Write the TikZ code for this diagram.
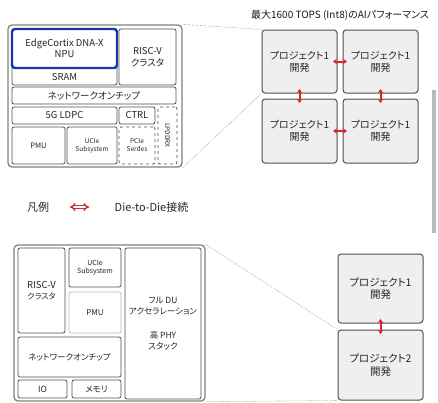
\documentclass[tikz,border=0pt]{standalone}
\usepackage{fontspec}
\setmainfont{Noto Sans CJK JP}[RawFeature=+palt]
\usetikzlibrary{arrows.meta}

\definecolor{txtgray}{HTML}{262626}
\definecolor{blkline}{HTML}{505050}
\definecolor{chipfill}{HTML}{EFEFEF}
\definecolor{npublue}{HTML}{1B35A6}
\definecolor{pmublue}{HTML}{A9BEDC}
\definecolor{d2dred}{HTML}{D8262C}

\tikzset{
  blk/.style={draw=blkline, fill=white, rounded corners=2pt, line width=0.8pt,
    inner sep=0pt, align=center, text=txtgray, font=\fontsize{8.5}{10}\selectfont},
  outerblk/.style={draw=gray, rounded corners=4pt, line width=1.3pt, inner sep=0pt},
  chip/.style={draw=blkline, fill=chipfill, rounded corners=3pt, line width=1pt,
    inner sep=0pt, align=center, text=txtgray, font=\fontsize{10}{12}\selectfont},
  d2d/.style={{Stealth[length=4pt,width=5.5pt]}-{Stealth[length=4pt,width=5.5pt]},
    draw=d2dred, line width=2pt, shorten <=-4.5pt, shorten >=-4.5pt},
  zoomline/.style={draw=gray!80, densely dotted, line width=0.6pt}
}

\begin{document}
\begin{tikzpicture}[x=1pt, y=-1pt, line join=round]
  \useasboundingbox (0,0) rectangle (438,402);
  % title
  \node[text=black!90, font=\fontsize{10}{11}\selectfont] (title) at (340,15)
    {最大1600 TOPS (Int8)のAIパフォーマンス};

  % upper chiplet: block diagram
  \node[outerblk, minimum width=174pt, minimum height=142pt] (topchip) at (95,96) {};
  \node[blk, minimum width=105pt, minimum height=56pt] (sram) at (64.5,57) {};
  \node[text=txtgray, font=\fontsize{9.5}{10}\selectfont] (sramtxt) at (64.5,77) {SRAM};
  \node[blk, draw=npublue, line width=2.4pt, rounded corners=3pt,
    minimum width=105pt, minimum height=39pt, font=\fontsize{9.5}{11.5}\selectfont] (npu) at (64.5,48.5)
    {EdgeCortix DNA-X\\NPU};
  \node[blk, minimum width=57pt, minimum height=56pt, font=\fontsize{9.5}{12}\selectfont] (riscA) at (147.5,57)
    {RISC-V\\クラスタ};
  \node[blk, minimum width=164pt, minimum height=17pt, font=\fontsize{9.5}{10}\selectfont] (nocA) at (94,95.5) {ネットワークオンチップ};
  \node[blk, minimum width=105pt, minimum height=17pt, font=\fontsize{9.5}{10}\selectfont] (ldpc) at (64.5,115.5) {5G LDPC};
  \node[blk, minimum width=36pt, minimum height=17pt, font=\fontsize{9.5}{10}\selectfont] (ctrl) at (137,115.5) {CTRL};
  \node[blk, dashed, minimum width=19pt, minimum height=57pt] (lpddr) at (167.5,135.5) {};
  \node[text=txtgray, rotate=-90, font=\fontsize{6.5}{7}\selectfont] (lpddrtxt) at (lpddr) {LPDDRX};
  \node[blk, minimum width=53pt, minimum height=37pt, font=\fontsize{7.5}{9}\selectfont] (pmuA) at (38.5,145.5) {PMU};
  \node[blk, minimum width=50pt, minimum height=37pt, font=\fontsize{6.5}{8}\selectfont] (ucieA) at (92,145.5) {UCIe\\Subsystem};
  \node[blk, dashed, minimum width=36pt, minimum height=37pt, font=\fontsize{6.5}{8}\selectfont] (pcie) at (137,145.5) {PCIe\\Serdes};

  % upper chiplet: 2x2 array
  \node[chip, minimum width=75pt, minimum height=63pt] (c11) at (299.5,61.5) {プロジェクト1\\開発};
  \node[chip, minimum width=75pt, minimum height=63pt] (c12) at (380.5,61.5) {プロジェクト1\\開発};
  \node[chip, minimum width=75pt, minimum height=64pt] (c21) at (299.5,131) {プロジェクト1\\開発};
  \node[chip, minimum width=75pt, minimum height=64pt] (c22) at (380.5,131) {プロジェクト1\\開発};
  \draw[d2d] (c11.east) -- (c12.west);
  \draw[d2d] (c21.east) -- (c22.west);
  \draw[d2d] (c11.south) -- (c21.north);
  \draw[d2d] (c12.south) -- (c22.north);
  \draw[zoomline] (topchip.north east) -- (c11.north west);
  \draw[zoomline] (topchip.south east) -- (c11.south west);

  % side bar
  \fill[gray!55] (432,90) rectangle (436,233);

  % legend
  \node[text=txtgray, font=\fontsize{11}{12}\selectfont] (legend) at (38,207) {凡例};
  \coordinate (legl) at (70,207);
  \coordinate (legr) at (89,207);
  \draw[draw=d2dred, double=white, double distance=1.2pt, line width=1.3pt,
    {Implies}-{Implies}] (legl) -- (legr);
  \node[text=txtgray, font=\fontsize{11}{12}\selectfont] (legtxt) at (151.5,207) {Die-to-Die接続};

  % lower chiplet: block diagram
  \node[outerblk, minimum width=191pt, minimum height=156pt] (botchip) at (109.5,323) {};
  \node[blk, minimum width=47pt, minimum height=85pt, font=\fontsize{9.5}{11.5}\selectfont] (riscB) at (41.5,290.5)
    {RISC-V\\{\fontsize{8}{9}\selectfont クラスタ}};
  \node[blk, minimum width=52pt, minimum height=39pt, font=\fontsize{7}{8.5}\selectfont] (ucieB) at (95,267.5) {UCIe\\Subsystem};
  \node[blk, draw=pmublue, minimum width=52pt, minimum height=41pt, font=\fontsize{8}{9}\selectfont] (pmuB) at (95,312.5) {PMU};
  \node[blk, minimum width=76pt, minimum height=151pt, font=\fontsize{8.5}{10.5}\selectfont] (du) at (163,323.5)
    {フル DU\\アクセラレーション\\[14pt]高 PHY\\スタック};
  \node[blk, minimum width=103pt, minimum height=40pt, font=\fontsize{8.5}{9}\selectfont] (nocB) at (69.5,357) {ネットワークオンチップ};
  \node[blk, minimum width=49pt, minimum height=18pt, font=\fontsize{8.5}{9}\selectfont] (io) at (42.5,389) {IO};
  \node[blk, minimum width=49pt, minimum height=18pt, font=\fontsize{8.5}{9}\selectfont] (mem) at (96.5,389) {メモリ};

  % lower chiplet: 2 dies
  \node[chip, minimum width=85pt, minimum height=69pt, font=\fontsize{10.5}{12.5}\selectfont] (d1) at (380.5,288.5) {プロジェクト1\\開発};
  \node[chip, minimum width=85pt, minimum height=70pt, font=\fontsize{10.5}{12.5}\selectfont] (d2) at (380.5,365) {プロジェクト2\\開発};
  \draw[d2d] (d1.south) -- (d2.north);
  \draw[zoomline] (botchip.north east) -- (d2.north west);
  \draw[zoomline] (botchip.south east) -- (d2.south west);
\end{tikzpicture}
\end{document}
